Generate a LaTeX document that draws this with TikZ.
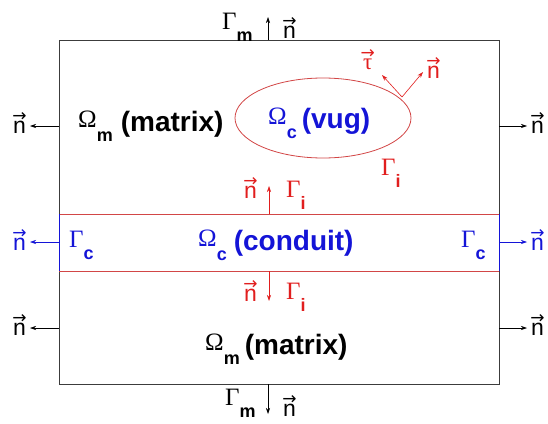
\documentclass[tikz,border=0pt]{standalone}
\usepackage{fontspec}
\setmainfont{Liberation Sans}
\newfontfamily\grk{Liberation Serif}
\newfontfamily\dejavu{DejaVu Sans}
\usetikzlibrary{arrows.meta}
\definecolor{myred}{RGB}{225,30,30}
\definecolor{lred}{RGB}{210,70,70}
\definecolor{myblue}{RGB}{20,20,215}
\definecolor{frame}{RGB}{60,60,60}
\newcommand\Gsym[2]{{\fontsize{25}{25}\grk #1}\raisebox{-12pt}{\fontsize{18}{18}\selectfont\bfseries #2}}
\newcommand\Osym[2]{\raisebox{4pt}{\fontsize{25}{25}\grk #1}\raisebox{-10pt}{\fontsize{18}{18}\selectfont\bfseries #2}}
\newcommand\vecof[1]{\setbox0\hbox{#1}\leavevmode\rlap{\raisebox{\dimexpr\ht0-0.5pt\relax}{\hbox to \wd0{\hss\fontsize{17}{17}\selectfont\dejavu →\hss}}}\box0}
\newcommand\vn{\vecof{\fontsize{23}{23}\selectfont n}}
\newcommand\vt{\vecof{\fontsize{23}{23}\grk τ}}
\newcommand\bigtxt{\fontsize{28}{28}\selectfont\bfseries}
\begin{document}
\begin{tikzpicture}[x=1pt,y=-1pt,
  lab/.style={inner sep=0pt, anchor=base west},
  arr/.style={-{Stealth[length=6pt,width=4pt]}, line width=0.6pt}]
\useasboundingbox (0,0) rectangle (548,423);
% frame
\draw[frame, line width=0.8pt] (59,40) rectangle (499,384);
\draw[lred, line width=0.8pt] (59,214) -- (499,214);
\draw[lred, line width=0.8pt] (59,271) -- (499,271);
\draw[myblue, line width=0.8pt] (59,214) -- (59,271);
\draw[myblue, line width=0.8pt] (499,214) -- (499,271);
\draw[lred, line width=0.8pt] (323,118) ellipse [x radius=88, y radius=40];
% boundary points
\coordinate (tA) at (268,40);   \coordinate (tB) at (268,17);
\coordinate (bA) at (268,384);  \coordinate (bB) at (268,414);
\coordinate (l1A) at (59,126);  \coordinate (l1B) at (30,126);
\coordinate (r1A) at (499,126); \coordinate (r1B) at (527,126);
\coordinate (l2A) at (59,242);  \coordinate (l2B) at (30,242);
\coordinate (r2A) at (499,242); \coordinate (r2B) at (527,242);
\coordinate (l3A) at (59,328);  \coordinate (l3B) at (30,328);
\coordinate (r3A) at (499,328); \coordinate (r3B) at (527,328);
\coordinate (iA) at (269,214);  \coordinate (iB) at (269,186);
\coordinate (jA) at (269,271);  \coordinate (jB) at (269,301);
\coordinate (eP) at (402,97);   \coordinate (eT) at (382,75); \coordinate (eN) at (423,72);
% arrows
\draw[arr] (tA) -- (tB);
\draw[arr] (bA) -- (bB);
\draw[arr] (l1A) -- (l1B);
\draw[arr] (r1A) -- (r1B);
\draw[arr, myblue] (l2A) -- (l2B);
\draw[arr, myblue] (r2A) -- (r2B);
\draw[arr] (l3A) -- (l3B);
\draw[arr] (r3A) -- (r3B);
\draw[arr, myred] (iA) -- (iB);
\draw[arr, myred] (jA) -- (jB);
\draw[arr, myred] (eP) -- (eT);
\draw[arr, myred] (eP) -- (eN);
% labels
\node[lab] (gmt) at (222,29) {\Gsym{Γ}{m}};
\node[lab] (nt) at (283,38) {\vn};
\node[lab] (gmb) at (225,405) {\Gsym{Γ}{m}};
\node[lab] (nb) at (283,416) {\vn};
\node[lab] (nl1) at (13,133) {\vn};
\node[lab] (nr1) at (531,133) {\vn};
\node[lab, myblue] (nl2) at (13,250) {\vn};
\node[lab, myblue] (nr2) at (531,250) {\vn};
\node[lab] (nl3) at (13,335) {\vn};
\node[lab] (nr3) at (531,335) {\vn};
\node[lab, myblue] (gcl) at (69,247) {\Gsym{Γ}{c}};
\node[lab, myblue] (gcr) at (461,247) {\Gsym{Γ}{c}};
\node[lab, myred] (ni) at (244,198) {\vn};
\node[lab, myred] (gi) at (286,197) {\Gsym{Γ}{i}};
\node[lab, myred] (nj) at (244,301) {\vn};
\node[lab, myred] (gj) at (286,299) {\Gsym{Γ}{i}};
\node[lab, myred] (ge) at (381,175) {\Gsym{Γ}{i}};
\node[lab, myred] (tau) at (363,69) {\vt};
\node[lab, myred] (ne) at (427,78) {\vn};
% regions
\node[lab] (om1) at (78,131) {\Osym{Ω}{m}\hspace{8pt}{\bigtxt (matrix)}};
\node[lab, myblue] (ov) at (268,128) {\Osym{Ω}{c}\hspace{5pt}{\bigtxt (vug)}};
\node[lab, myblue] (oc) at (198,250) {\Osym{Ω}{c}\hspace{7pt}{\bigtxt (conduit)}};
\node[lab] (om2) at (205,354) {\Osym{Ω}{m}\hspace{5pt}{\bigtxt (matrix)}};
\end{tikzpicture}
\end{document}
